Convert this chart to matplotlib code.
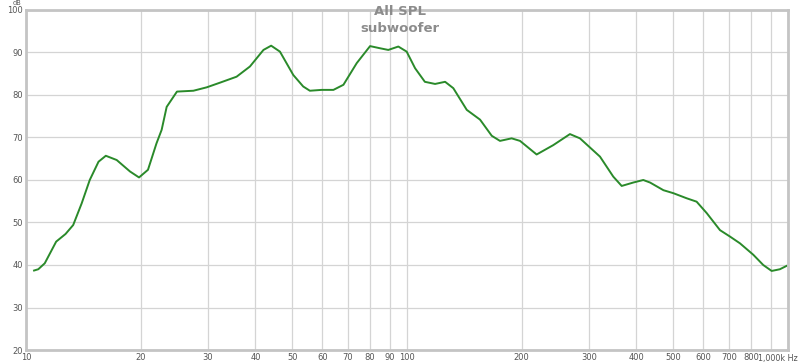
import matplotlib
matplotlib.use('Agg')
import matplotlib.pyplot as plt
import numpy as np

# SPL response (Hz, dB)
freq = [10.5, 10.77, 11.2, 12.0, 12.7, 13.3, 14.0, 14.7, 15.5, 16.2, 17.3, 18.75,
        19.8, 20.9, 22.0, 22.7, 23.4, 24.9, 27.5, 29.8, 32.3, 35.7, 38.7, 42.0,
        44.0, 46.4, 50.3, 53.4, 55.6, 59.7, 64.1, 68.1, 73.8, 80.0, 84.9, 89.3,
        94.9, 99.8, 105, 111.4, 118.5, 125.9, 132.3, 143.5, 155.5, 166.9, 175.4,
        188.2, 198, 218.9, 242, 267.7, 284.4, 321, 347.8, 366, 392.5, 417, 434.5,
        471, 500, 542, 575.6, 612, 663, 704, 748, 811, 861, 906, 952, 992]
spl = [38.7, 39.0, 40.4, 45.5, 47.3, 49.4, 54.5, 60.0, 64.3, 65.7, 64.7, 62.0,
       60.6, 62.4, 68.6, 71.8, 77.2, 80.8, 81.0, 81.8, 82.9, 84.3, 86.7, 90.6,
       91.6, 90.2, 84.7, 82.0, 81.0, 81.2, 81.2, 82.4, 87.5, 91.5, 91.0, 90.6,
       91.4, 90.2, 86.3, 83.1, 82.6, 83.1, 81.6, 76.5, 74.2, 70.4, 69.2, 69.8,
       69.2, 66.0, 68.2, 70.8, 69.8, 65.5, 60.8, 58.6, 59.4, 60.0, 59.4, 57.6,
       56.9, 55.7, 54.9, 52.2, 48.2, 46.7, 45.1, 42.4, 40.0, 38.6, 39.0, 39.8]

xticks = [10, 20, 30, 40, 50, 60, 70, 80, 90, 100, 200, 300, 400, 500, 600, 700, 800, 900, 1000]
xlabels = ['10', '20', '30', '40', '50', '60', '70', '80', '90', '100', '200', '300',
           '400', '500', '600', '700', '800', '', '']
yticks = [20, 30, 40, 50, 60, 70, 80, 90, 100]

fig = plt.figure(figsize=(8, 3.63), dpi=100)
ax = fig.add_axes([0.0325, 0.0358, 0.9525, 0.9367])

ax.plot(freq, spl, color='#2a8a2a', lw=1.4, solid_joinstyle='round')

ax.set_xscale('log')
ax.set_xlim(10, 1000)
ax.set_ylim(20, 100)
ax.set_xticks(xticks)
ax.set_xticklabels(xlabels)
ax.xaxis.set_minor_locator(matplotlib.ticker.NullLocator())
ax.set_yticks(yticks)
ax.set_yticklabels([str(v) for v in yticks])
ax.tick_params(length=0, labelsize=6, colors='#555555', pad=2)
ax.grid(True, color='#d4d4d4', lw=0.9)
for s in ax.spines.values():
    s.set_color('#c4c4c4')
    s.set_linewidth(2)

fig.text(0.997, 0.0358 - 0.012, '1,000k Hz', ha='right', va='top', fontsize=5.8, color='#555555')
fig.text(0.021, 1.0, 'dB', ha='center', va='top', fontsize=4.8, color='#555555')

ax.text(0.5, 0.985, 'All SPL', transform=fig.transFigure, ha='center', va='top',
        fontsize=9.5, fontweight='bold', color='#8c8c8c')
ax.text(0.5, 0.94, 'subwoofer', transform=fig.transFigure, ha='center', va='top',
        fontsize=9.5, fontweight='bold', color='#8c8c8c')

fig.savefig('out.png', dpi=100, facecolor='white')
